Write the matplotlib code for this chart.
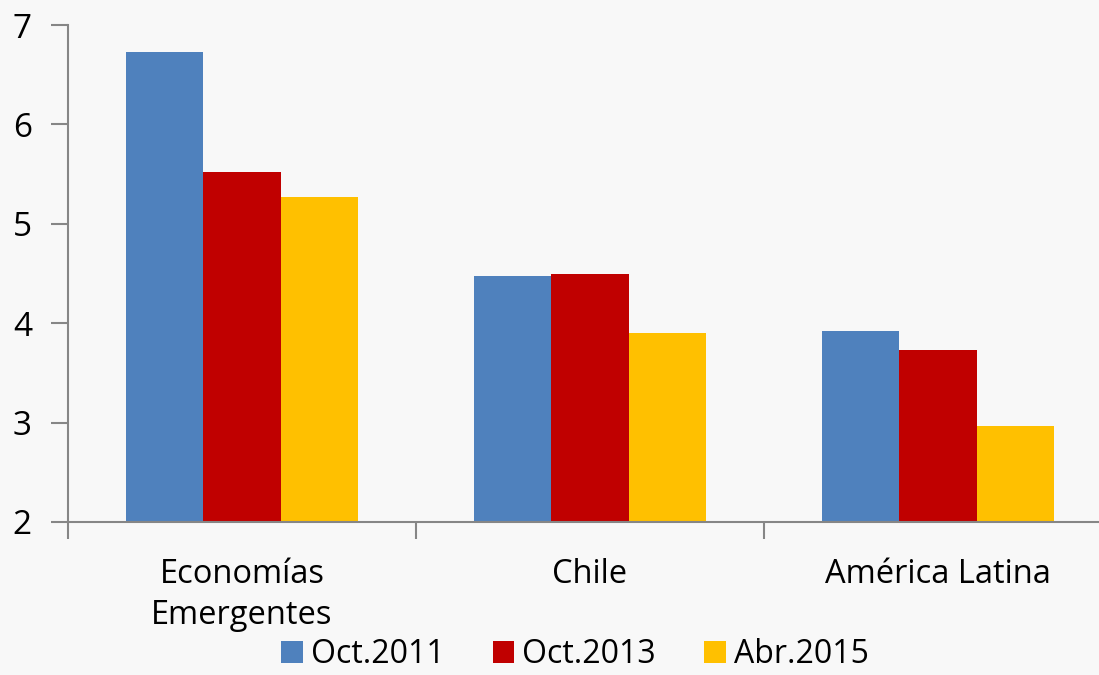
import matplotlib
matplotlib.use("Agg")
import matplotlib.pyplot as plt
import numpy as np

categories = ["Economías\nEmergentes", "Chile", "América Latina"]
series_names = ["Oct.2011", "Oct.2013", "Abr.2015"]
oct2011 = [6.73, 4.47, 3.92]
oct2013 = [5.52, 4.50, 3.73]
abr2015 = [5.27, 3.90, 2.97]
colors = ["#4F81BD", "#C00000", "#FFC000"]
yticks = [2, 3, 4, 5, 6, 7]

plt.rcParams['font.family'] = ['Open Sans', 'DejaVu Sans']
bg = "#F8F8F8"
fig = plt.figure(figsize=(10.99, 6.75), dpi=100, facecolor=bg)
W, H = 1099, 675
ax = fig.add_axes([68 / W, (H - 522) / H, 1044 / W, 497 / H])
ax.set_facecolor(bg)

x = np.arange(len(categories))
bw = 0.222
for i, (vals, name) in enumerate(zip([oct2011, oct2013, abr2015], series_names)):
    ax.bar(x + (i - 1) * bw, np.array(vals) - 2, bottom=2, width=bw,
           color=colors[i], label=name, linewidth=0)

ax.set_xlim(-0.5, 2.5)
ax.set_ylim(2, 7)
ax.set_yticks(yticks)
ax.set_yticklabels([str(t) for t in yticks], fontsize=24)
ax.set_xticks(x)
ax.set_xticklabels(categories, fontsize=23.5, linespacing=1.3)
ax.set_xticks([-0.5, 0.5, 1.5, 2.5], minor=True)
ax.tick_params(axis='x', which='major', length=0, pad=26)
ax.tick_params(axis='x', which='minor', length=12, width=1.5, color="#868686")
ax.tick_params(axis='y', length=12, width=1.5, color="#868686", pad=14)
for s in ['top', 'right']:
    ax.spines[s].set_visible(False)
for s in ['left', 'bottom']:
    ax.spines[s].set_color("#868686")
    ax.spines[s].set_linewidth(1.5)

fig.legend(loc='lower center', bbox_to_anchor=(0.523, -0.037), ncol=3, frameon=False,
           fontsize=23, handlelength=0.68, handleheight=0.68, handletextpad=0.25,
           columnspacing=1.5)

fig.savefig("out.png", dpi=100, facecolor=bg)
